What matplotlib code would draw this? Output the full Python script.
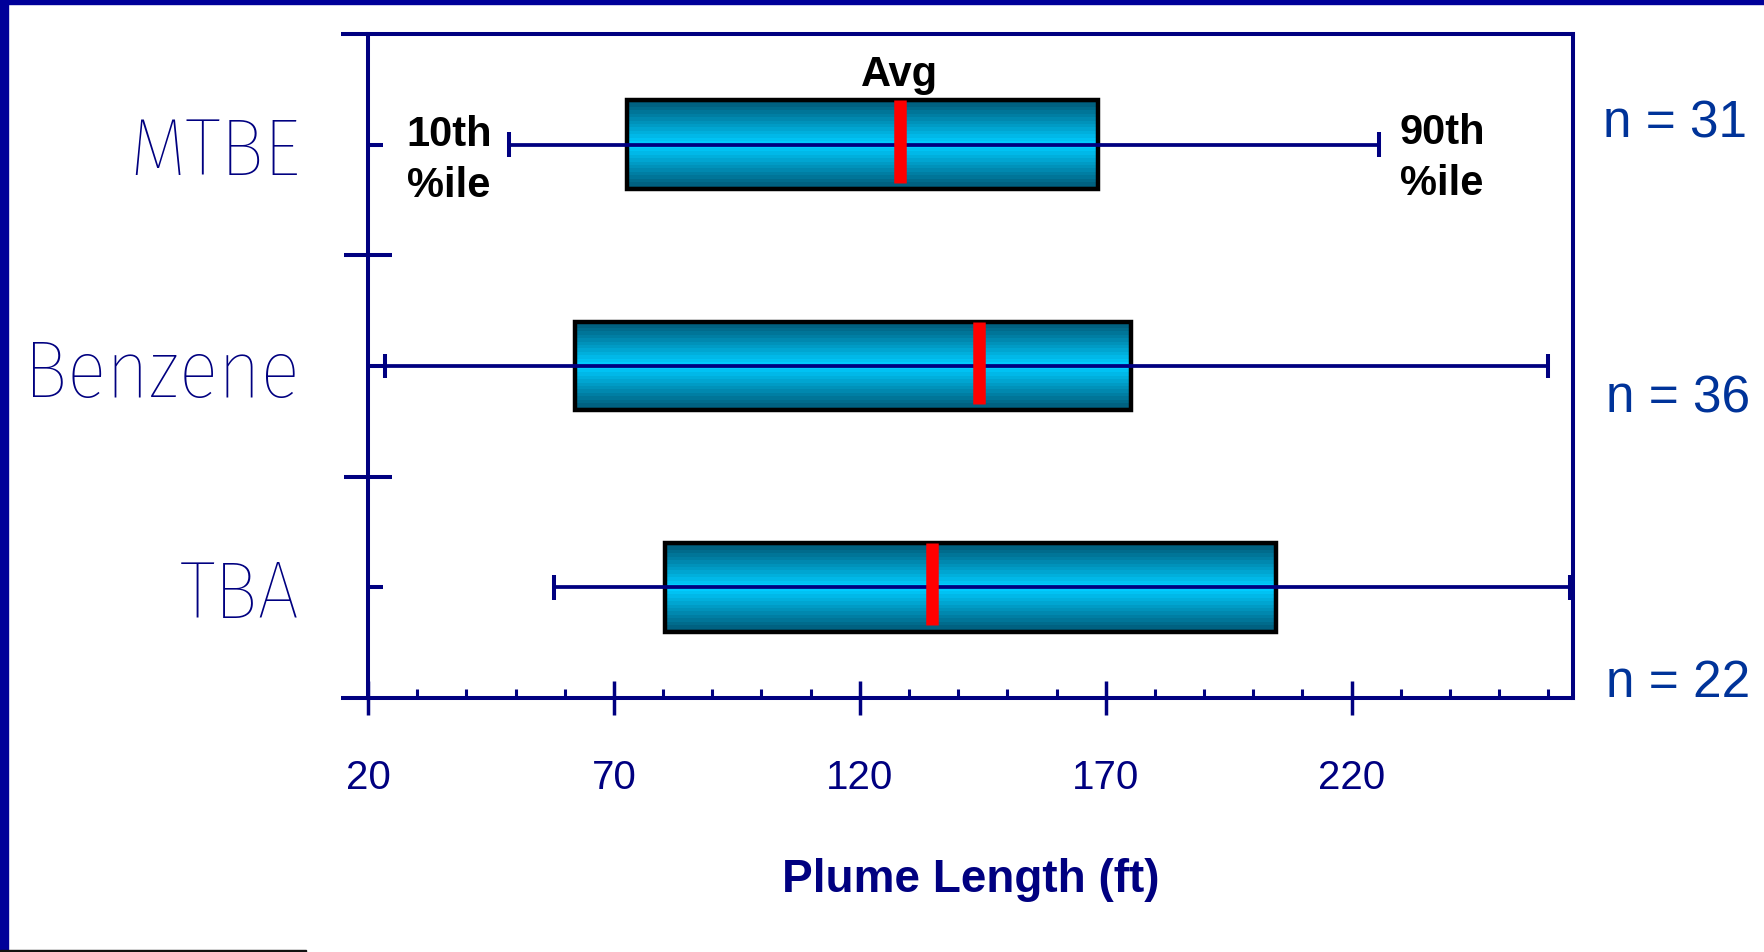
import numpy as np
import matplotlib
matplotlib.use("Agg")
import matplotlib.pyplot as plt
from matplotlib.patches import Rectangle
from matplotlib.colors import ListedColormap
from matplotlib import font_manager as fm
from matplotlib.font_manager import FontProperties
from matplotlib.textpath import TextPath

# ---------------- data ----------------
categories = ["MTBE", "Benzene", "TBA"]
p10 = [48.6, 23.5, 57.9]
q25 = [72.6, 62.0, 80.3]
q75 = [168.4, 175.2, 204.7]
p90 = [225.5, 260.0, 264.3]
avg = [128.1, 144.3, 134.7]
n_counts = [31, 36, 22]
x_major = [20, 70, 120, 170, 220]
x_minor = [30, 40, 50, 60, 80, 90, 100, 110, 130, 140, 150, 160,
           180, 190, 200, 210, 230, 240, 250, 260]
x_limits = (20, 265)

# ---------------- style ----------------
NAVY = "#000080"
FRAME = "#000099"
NBLUE = "#003399"
names = {f.name for f in fm.fontManager.ttflist}
SANS = "Liberation Sans" if "Liberation Sans" in names else "DejaVu Sans"


def _weight(w):
    if isinstance(w, str):
        return fm.weight_dict.get(w, 400)
    return int(w)


def pick_label_font(target_ratio=4.68):
    """Choose a narrow, light sans font for the category labels."""
    bad = ("Mono", "Serif", "CJK", "Math", "Symbol", "Emoji", "Display", "Sans Mono")
    best, best_score = None, None
    seen = set()
    for f in fm.fontManager.ttflist:
        if f.fname in seen:
            continue
        seen.add(f.fname)
        if f.style != "normal" or any(b in f.name for b in bad):
            continue
        if "Sans" not in f.name and f.name not in ("Roboto", "Lato", "Inter",
                                                    "Roboto Condensed"):
            continue
        try:
            fp = FontProperties(fname=f.fname)
            wB = TextPath((0, 0), "Benzene", size=100, prop=fp).get_extents().width
            hB = TextPath((0, 0), "B", size=100, prop=fp).get_extents().height
        except Exception:
            continue
        if hB <= 0:
            continue
        ratio = wB / hB
        w = _weight(f.weight)
        score = abs(ratio - target_ratio) + 0.004 * max(w - 250, 0) + 0.01 * max(250 - w, 0)
        if best_score is None or score < best_score:
            best, best_score = (fp, wB / 100, hB / 100), score
    if best is None:
        fp = FontProperties(family=SANS)
        wB = TextPath((0, 0), "Benzene", size=100, prop=fp).get_extents().width
        hB = TextPath((0, 0), "B", size=100, prop=fp).get_extents().height
        best = (fp, wB / 100, hB / 100)
    return best


LABEL_FP, LABEL_WEM, LABEL_CAPEM = pick_label_font()
# size (px) so that caps are ~56 px tall but "Benzene" no wider than ~262 px
label_px = min(56 / LABEL_CAPEM, 262 / LABEL_WEM)
LABEL_PT = label_px * 72 / 100

W, H, DPI = 1764, 953, 100
fig = plt.figure(figsize=(W / DPI, H / DPI), dpi=DPI)
fig.patch.set_facecolor("white")

ax_l, ax_r, ax_t, ax_b = 368, 1573, 35, 699
ax = fig.add_axes([ax_l / W, 1 - ax_b / H, (ax_r - ax_l) / W, (ax_b - ax_t) / H])
ax.set_facecolor("white")

# gradient for boxes (banded)
bands = 13
edge = np.array([0, 88, 118]) / 255
center = np.array([0, 204, 255]) / 255
cols = [edge + (center - edge) * (k / (bands - 1)) for k in range(bands)]
cmap = ListedColormap(cols)
t = np.linspace(-1, 1, 2 * bands)
grad = (1 - np.abs(t)).reshape(-1, 1)

h = 0.40
cap_h = 0.055
for i, cat in enumerate(categories):
    ax.imshow(grad, extent=(q25[i], q75[i], i + h / 2, i - h / 2), aspect="auto",
              cmap=cmap, interpolation="nearest", zorder=1)
    ax.add_patch(Rectangle((q25[i], i - h / 2), q75[i] - q25[i], h, fill=False,
                           ec="black", lw=3.2, zorder=2))
    ax.hlines(i, p10[i], p90[i], color=NAVY, lw=2.7, zorder=3)
    ax.vlines([p10[i], p90[i]], i - cap_h, i + cap_h, color=NAVY, lw=2.9,
              zorder=3, clip_on=False)
    ax.vlines(avg[i], i - h / 2, i - h / 2 + 0.93 * h, color="red", lw=9,
              zorder=4, capstyle="butt")

ax.set_xlim(*x_limits)
ax.set_ylim(2.5, -0.5)

# spines
for s in ["left", "right", "top", "bottom"]:
    ax.spines[s].set_color(NAVY)
    ax.spines[s].set_linewidth(2.9)
    ax.spines[s].set_zorder(5)

# extend top and bottom lines to the left of the axis
ext = -27 / (ax_r - ax_l)
for yy in (0, 1):
    ax.plot([ext, 0], [yy, yy], transform=ax.transAxes, color=NAVY, lw=2.9,
            clip_on=False, solid_capstyle="butt", zorder=5)

# x ticks
ax.set_xticks(x_major)
ax.set_xticks(x_minor, minor=True)
ax.set_xticklabels([str(v) for v in x_major])
ax.tick_params(axis="x", which="major", direction="inout", length=24.5, width=2.5,
               color=NAVY, labelcolor=NAVY, labelsize=29, pad=31)
ax.tick_params(axis="x", which="minor", direction="in", length=6.5, width=2.2,
               color=NAVY)
for lab in ax.get_xticklabels():
    lab.set_fontfamily(SANS)

# y ticks
ax.set_yticks(range(len(categories)))
ax.set_yticklabels(categories)
ax.set_yticks([0.5, 1.5], minor=True)
ax.tick_params(axis="y", which="major", direction="in", length=10.8, width=2.9,
               color=NAVY, labelcolor=NAVY, pad=49)
ax.tick_params(axis="y", which="minor", direction="inout", length=35, width=2.9,
               color=NAVY)
ax.tick_params(axis="both", which="both", top=False, right=False)
for lab in ax.get_yticklabels():
    lab.set_fontproperties(LABEL_FP)
    lab.set_fontsize(LABEL_PT)
    lab.set_color(NAVY)

# x label
ax.set_xlabel("Plume Length (ft)", fontsize=33, fontweight="bold", color=NAVY,
              family=SANS, va="baseline")
ax.xaxis.set_label_coords(0.5, -(892 - ax_b) / (ax_b - ax_t))

# annotations
bold = dict(fontsize=30, fontweight="bold", color="black", family=SANS)
ax.annotate("Avg", xy=(avg[0], -h / 2), xytext=(0, 11), textcoords="offset points",
            ha="center", va="baseline", **bold)
ax.annotate("10th", xy=(27.9, 0), xytext=(0, 0), textcoords="offset points",
            ha="left", va="baseline", **bold)
ax.annotate("%ile", xy=(27.9, 0), xytext=(0, -36.7), textcoords="offset points",
            ha="left", va="baseline", **bold)
ax.annotate("90th", xy=(229.8, 0), xytext=(0, 1.5), textcoords="offset points",
            ha="left", va="baseline", **bold)
ax.annotate("%ile", xy=(229.8, 0), xytext=(0, -35.2), textcoords="offset points",
            ha="left", va="baseline", **bold)

# n labels
n_pos = [(1603, 137), (1606, 413), (1606, 697)]
for (px, py), n in zip(n_pos, n_counts):
    fig.text(px / W, 1 - py / H, f"n = {n}", fontsize=37, color=NBLUE,
             family=SANS, ha="left", va="baseline")

# slide frame
fig.patches.append(Rectangle((0, 0), 8 / W, 1, transform=fig.transFigure,
                             color=FRAME, zorder=10))
fig.patches.append(Rectangle((0, 1 - 5 / H), 1, 5 / H, transform=fig.transFigure,
                             color=FRAME, zorder=10))
fig.patches.append(Rectangle((0, 0), 306 / W, 2 / H, transform=fig.transFigure,
                             color="#111111", zorder=10))

fig.savefig("out.png", dpi=DPI)
